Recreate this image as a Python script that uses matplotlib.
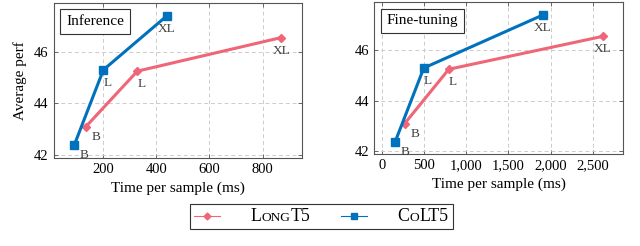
import numpy as np
import matplotlib
matplotlib.use("Agg")
import matplotlib.pyplot as plt
from matplotlib.lines import Line2D
from matplotlib.offsetbox import AnchoredOffsetbox, HPacker, TextArea, DrawingArea
from matplotlib.ticker import FuncFormatter

plt.rcParams['font.family'] = ['Liberation Serif', 'DejaVu Serif']
plt.rcParams['mathtext.fontset'] = 'stix'

sizes = ['B', 'L', 'XL']
perf_longt5 = [43.1, 45.25, 46.55]
perf_colt5 = [42.38, 45.3, 47.4]
# time per sample (ms)
inf_longt5 = [134, 328, 870]
inf_colt5 = [90, 200, 440]
ft_longt5 = [272, 795, 2615]
ft_colt5 = [160, 499, 1910]

RED = '#EE6677'
BLUE = '#0072BD'
LBL = '#404040'

fig = plt.figure(figsize=(6.4, 2.46), dpi=100)
ax1 = fig.add_axes([0.0836, 0.357, 0.388, 0.632])
ax2 = fig.add_axes([0.585, 0.372, 0.389, 0.619])

# offsets (points) for the size labels, per size
offs = {'B': (4, -3, 'left'), 'L': (0, -5, 'left'), 'XL': (0, -5, 'center')}

def panel(ax, tl, tc, title):
    ax.plot(tl, perf_longt5, color=RED, lw=2.2, marker='D', ms=4.5, zorder=3)
    ax.plot(tc, perf_colt5, color=BLUE, lw=2.2, marker='s', ms=5.5, zorder=4)
    for xs, ys in [(tl, perf_longt5), (tc, perf_colt5)]:
        for s, x, y in zip(sizes, xs, ys):
            dx, dy, ha = offs[s]
            ax.annotate(s, (x, y), xytext=(dx, dy), textcoords='offset points',
                        ha=ha, va='top', fontsize=9.5, color=LBL)
    ax.margins(0.1)
    ax.grid(True, ls=(0, (4, 3)), color='#cccccc', lw=0.7)
    ax.set_axisbelow(True)
    ax.tick_params(direction='in', length=3, width=0.6, labelsize=10.5,
                   top=True, right=True, color='#555555')
    for sp in ax.spines.values():
        sp.set_linewidth(0.8)
        sp.set_color('#555555')
    ax.set_xlabel('Time per sample (ms)', fontsize=11, labelpad=4)
    ax.text(0.05, 0.92, title, transform=ax.transAxes, fontsize=11, va='top', ha='left',
            bbox=dict(boxstyle='square,pad=0.38', fc='white', ec='#333333', lw=0.8))

panel(ax1, inf_longt5, inf_colt5, 'Inference')
panel(ax2, ft_longt5, ft_colt5, 'Fine-tuning')

ax1.set_xticks([200, 400, 600, 800])
ax1.set_yticks([42, 44, 46])
ax1.set_ylabel('Average perf', fontsize=11, labelpad=5)
ax2.set_xticks([0, 500, 1000, 1500, 2000, 2500])
ax2.set_yticks([42, 44, 46])
ax2.xaxis.set_major_formatter(FuncFormatter(lambda v, p: f'{int(v):,}'))

# legend with small caps labels
def smallcaps(parts):
    boxes = []
    for txt, big in parts:
        boxes.append(TextArea(txt, textprops=dict(fontsize=12.8 if big else 9.6,
                                                  family='Liberation Serif')))
    return HPacker(children=boxes, align='baseline', pad=0, sep=0)

def handle(color, marker, ms):
    da = DrawingArea(19, 10, 0, 0)
    da.add_artist(Line2D([0, 19], [5, 5], color=color, lw=0.8))
    da.add_artist(Line2D([9.5], [5], color=color, marker=marker, ms=ms))
    return da

entries = HPacker(children=[
    handle(RED, 'D', 3.5),
    smallcaps([('L', True), ('ONG', False), ('T5', True)]),
    handle(BLUE, 's', 4),
], align='center', pad=0, sep=22)
entries = HPacker(children=[
    entries,
    smallcaps([('C', True), ('O', False), ('LT5', True)]),
], align='center', pad=0, sep=22)
leg = AnchoredOffsetbox(loc='center', child=entries, pad=0.3, borderpad=0,
                        frameon=True, bbox_to_anchor=(0.5016, 0.12),
                        bbox_transform=fig.transFigure)
leg.patch.set_edgecolor('#333333')
leg.patch.set_linewidth(0.8)
fig.add_artist(leg)

fig.savefig('out.png', dpi=100)
